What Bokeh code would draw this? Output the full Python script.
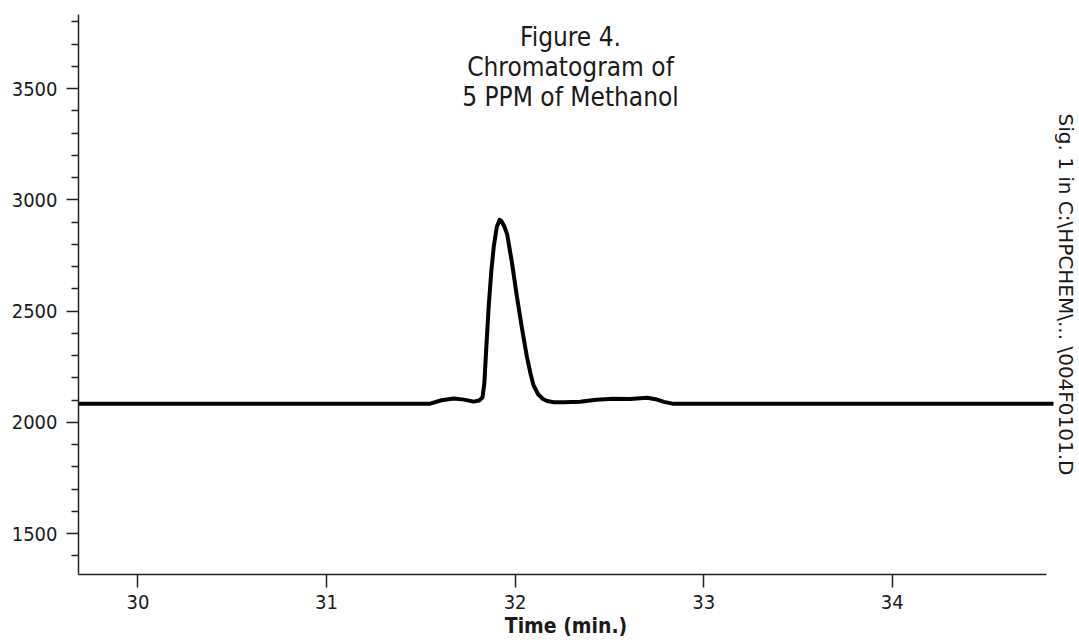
from bokeh.plotting import figure
from bokeh.models import Range1d, FixedTicker, Label, Title
from bokeh.embed import file_html
from bokeh.resources import INLINE

# ---- data ----
time_min = [29.685, 31.50, 31.55, 31.61, 31.675, 31.73, 31.78, 31.81, 31.827, 31.837,
            31.847, 31.86, 31.874, 31.887, 31.903, 31.918, 31.928, 31.943, 31.958,
            31.983, 32.01, 32.037, 32.063, 32.083, 32.098, 32.123, 32.148, 32.17,
            32.205, 32.26, 32.345, 32.43, 32.52, 32.61, 32.70, 32.745, 32.79,
            32.84, 33.20, 33.60, 34.00, 34.876]
signal = [2083, 2083, 2084, 2099, 2107, 2102, 2093, 2098, 2112, 2175,
          2330, 2520, 2680, 2790, 2878, 2910, 2904, 2880, 2845,
          2720, 2563, 2420, 2293, 2215, 2166, 2125, 2105, 2096,
          2090, 2090, 2092, 2101, 2106, 2105, 2110, 2104, 2092,
          2083, 2083, 2083, 2083, 2083]

x_ticks = [30, 31, 32, 33, 34]
y_ticks = [1500, 2000, 2500, 3000, 3500]
y_minor_ticks = [1400, 1600, 1700, 1800, 1900, 2100, 2200, 2300, 2400, 2600, 2700,
                 2800, 2900, 3100, 3200, 3300, 3400, 3600, 3700, 3800]

title_lines = ["Figure 4.", "Chromatogram of", "5 PPM of Methanol"]
x_label = "Time (min.)"
side_label = "Sig. 1 in C:\\HPCHEM\\... \\004F0101.D"

X_START, X_END, X_AXIS_END = 29.685, 34.855, 34.818
Y_START, Y_END = 1316, 3833

FONT = "DejaVu Sans Condensed"
TXT = "#1a1a1a"

p = figure(width=1079, height=643, output_backend="svg", toolbar_location=None,
           x_range=Range1d(X_START, X_END), y_range=Range1d(Y_START, Y_END),
           min_border_left=78, min_border_right=22, min_border_top=14,
           min_border_bottom=69)
p.outline_line_color = None
p.xgrid.grid_line_color = None
p.ygrid.grid_line_color = None
p.background_fill_color = "white"
p.border_fill_color = "white"

p.line(time_min, signal, line_color="black", line_width=4, line_join="round")

# x axis
xa = p.xaxis[0]
xa.ticker = FixedTicker(ticks=x_ticks)
xa.bounds = (X_START, X_AXIS_END)
xa.axis_line_color = "#222222"
xa.axis_line_width = 1.5
xa.major_tick_line_color = "#222222"
xa.major_tick_line_width = 1.5
xa.major_tick_out = 13
xa.major_tick_in = 0
xa.minor_tick_line_color = None
xa.major_label_text_font = FONT
xa.major_label_text_font_size = "20px"
xa.major_label_text_color = TXT
xa.major_label_standoff = 7
xa.axis_label = x_label
xa.axis_label_text_font = FONT
xa.axis_label_text_font_style = "bold"
xa.axis_label_text_font_size = "21px"
xa.axis_label_text_color = TXT
xa.axis_label_standoff = 2

# y axis
ya = p.yaxis[0]
ya.ticker = FixedTicker(ticks=y_ticks, minor_ticks=y_minor_ticks)
ya.axis_line_color = "#222222"
ya.axis_line_width = 1.5
ya.major_tick_line_color = "#222222"
ya.major_tick_line_width = 1.5
ya.major_tick_out = 12
ya.major_tick_in = 0
ya.minor_tick_line_color = "#222222"
ya.minor_tick_line_width = 1.5
ya.minor_tick_out = 7
ya.minor_tick_in = 0
ya.major_label_text_font = FONT
ya.major_label_text_font_size = "20px"
ya.major_label_text_color = TXT
ya.major_label_standoff = 9

# title lines (inside the plot area)
title_x = 32.294
title_y = [3734, 3595, 3460]
for txt, yy in zip(title_lines, title_y):
    p.add_layout(Label(x=title_x, y=yy, text=txt, text_align="center",
                       text_baseline="alphabetic", text_font=FONT,
                       text_font_size="26px", text_color=TXT))

# rotated signal label on the right
p.add_layout(Title(text=side_label, align="center", text_font="DejaVu Sans",
                   text_font_size="20px", text_font_style="normal",
                   text_color=TXT, offset=0, standoff=0), "right")

open("out.html", "w").write(file_html(p, INLINE))
